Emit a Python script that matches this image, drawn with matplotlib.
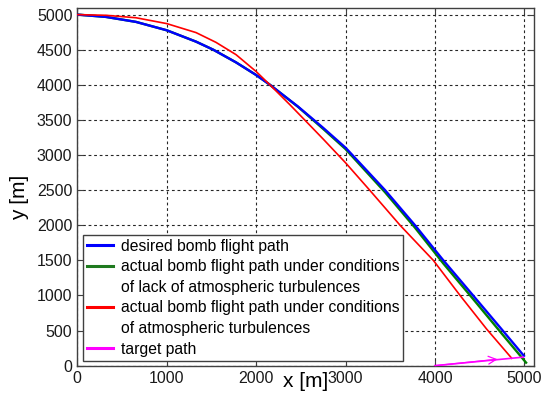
import matplotlib
matplotlib.use("Agg")
import matplotlib.pyplot as plt
from matplotlib.lines import Line2D

plt.rcParams['font.family'] = ['Liberation Sans', 'DejaVu Sans']

# desired bomb flight path
desired_x = [0, 321, 657, 1000, 1328, 1521, 1775, 2000, 2155, 2470, 2752, 3000,
             3442, 3777, 4094, 4418, 4754, 4995]
desired_y = [5000, 4967, 4896, 4777, 4615, 4500, 4320, 4140, 4000, 3689, 3385, 3105,
             2500, 2000, 1500, 1013, 506, 140]

# actual path, no turbulence
calm_x = [0, 321, 657, 1000, 1328, 1521, 1775, 2000, 2155, 2470, 2752, 3000,
          3442, 3777, 4094, 4418, 4754, 5019]
calm_y = [5000, 4967, 4896, 4777, 4615, 4500, 4320, 4140, 4000, 3685, 3370, 3085,
          2470, 1965, 1455, 963, 446, 43]

# actual path, with turbulence
turb_x = [0, 321, 657, 1000, 1328, 1551, 1775, 2000, 2174, 2379, 2566, 2752, 3000,
          3270, 3610, 3982, 4281, 4579, 4859]
turb_y = [5000, 4990, 4955, 4872, 4744, 4605, 4430, 4190, 3975, 3715, 3470, 3225, 2890,
          2500, 2000, 1500, 1000, 520, 105]

# target path
target_x = [4000, 4989]
target_y = [0, 122]

fig = plt.figure(figsize=(5.44, 3.98), dpi=100)
ax = fig.add_axes([0.142, 0.0812, 0.840, 0.898])

ax.plot(calm_x, calm_y, color='#008000', lw=1.7, zorder=3)
ax.plot(desired_x, desired_y, color='#0000ff', lw=1.7, zorder=4)
ax.plot(turb_x, turb_y, color='#ff0000', lw=1.2, zorder=5)
ax.plot(target_x, target_y, color='#ff00ff', lw=1.2, zorder=5)
ax.annotate("", xy=(4700, 92), xytext=(4000, 0),
            arrowprops=dict(arrowstyle='->', color='#ff00ff', lw=0.9,
                            mutation_scale=14, shrinkA=0, shrinkB=0), zorder=5)

ax.set_xlim(0, 5110)
ax.set_ylim(0, 5090)
ax.set_xticks([0, 1000, 2000, 3000, 4000, 5000])
ax.set_yticks(range(0, 5001, 500))
ax.tick_params(direction='in', top=True, right=True, length=4, labelsize=11.5,
               color='0.25', labelcolor='0.1')
ax.grid(True, color='0.15', linestyle=(0, (2.5, 2.5)), lw=0.8)
for s in ax.spines.values():
    s.set_color('0.25')
    s.set_linewidth(1.0)

ax.set_xlabel('x [m]', fontsize=15, labelpad=-10)
ax.set_ylabel('y [m]', fontsize=15)
ax.yaxis.set_label_coords(-0.105, 0.47)

blank = Line2D([], [], color='none')
handles = [Line2D([], [], color='#0000ff', lw=2.2),
           Line2D([], [], color='#1f7a1f', lw=2.2), blank,
           Line2D([], [], color='#ff0000', lw=2.2), blank,
           Line2D([], [], color='#ff00ff', lw=2.2)]
labels = ['desired bomb flight path',
          'actual bomb flight path under conditions',
          'of lack of atmospheric turbulences',
          'actual bomb flight path under conditions',
          'of atmospheric turbulences',
          'target path']
leg = ax.legend(handles, labels, loc='lower left', bbox_to_anchor=(0.0125, 0.014),
                borderaxespad=0, fontsize=11.3, labelspacing=0.36, handlelength=1.65,
                handletextpad=0.5, borderpad=0.25, fancybox=False, framealpha=1)
leg.get_frame().set_edgecolor('0.25')
leg.get_frame().set_linewidth(1.0)

fig.savefig('out.png', dpi=100)
